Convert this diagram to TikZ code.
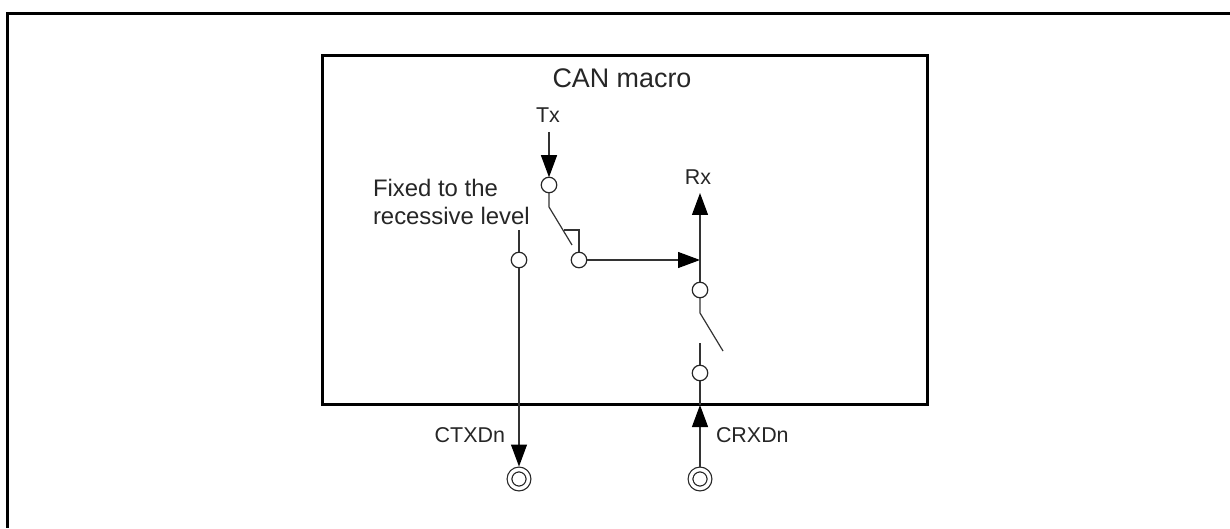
\documentclass[tikz,border=0pt]{standalone}
\usepackage{fontspec}
\setmainfont{Liberation Sans}
\usepackage{xcolor}
\usepackage{tikz}
\usetikzlibrary{arrows.meta}

\tikzset{
    wire/.style={line width=0.024cm, draw=black!80},
    sig/.style={wire, -{Stealth[length=0.44cm, width=0.32cm, inset=0pt, black]}},
    contact/.style={circle, draw=black!85, line width=0.024cm, minimum size=0.31cm, inner sep=0pt, outer sep=0pt},
    pin/.style={circle, draw=black!85, line width=0.024cm, double, double distance=0.07cm, minimum size=0.38cm, inner sep=0pt, outer sep=0.06cm},
    lbl/.style={inner sep=0pt, outer sep=0pt, text=black!85, font=\fontsize{12.2pt}{14pt}\selectfont},
}

\begin{document}
\begin{tikzpicture}
    \useasboundingbox (0,0) rectangle (24.6,10.56);

    % outer frame, open to the right and the bottom
    \draw[line width=0.06cm] (24.6,10.29) -- (0.15,10.29) -- (0.15,0);

    \node[draw, line width=0.06cm, minimum width=12.10cm, minimum height=6.96cm, inner sep=0pt, outer sep=0pt] (macro) at (12.49,5.96) {};
    \node[lbl, anchor=base, font=\fontsize{15.3pt}{18pt}\selectfont] (title) at (12.44,8.80) {CAN macro};

    % transmit side
    \node[lbl, anchor=base] (txlabel) at (10.96,8.10) {Tx};
    \coordinate (txtop) at (10.98,7.92);
    \node[contact] (txin) at (10.98,6.86) {};
    \coordinate (txbend) at (10.98,6.42);
    \coordinate (txarm) at (11.44,5.66);
    \node[contact] (txout) at (11.58,5.36) {};
    \coordinate (stopa) at (11.58,5.96);
    \coordinate (stopb) at (11.28,5.96);
    \draw[sig] (txtop) -- (txin);
    \draw[wire] (txin) -- (txbend) -- (txarm);
    \draw[wire] (txout) -- (stopa) -- (stopb);

    % fixed level path to the output pin
    \node[lbl, anchor=west, align=left, font=\fontsize{13.6pt}{16.4pt}\selectfont] (fixed) at (7.46,6.52) {Fixed to the\\recessive level};
    \coordinate (fixtop) at (10.38,5.96);
    \node[contact] (fixin) at (10.38,5.36) {};
    \node[pin] (ctxd) at (10.38,0.98) {};
    \draw[wire] (fixtop) -- (fixin);
    \draw[sig] (fixin) -- (ctxd);
    \node[lbl, anchor=base east] (ctxdlabel) at (10.10,1.72) {CTXDn};

    % receive side
    \node[lbl, anchor=base] (rxlabel) at (13.96,6.86) {Rx};
    \coordinate (rxtop) at (14.00,6.70);
    \coordinate (join) at (14.00,5.36);
    \node[contact] (rxout) at (14.00,4.76) {};
    \coordinate (rxbend) at (14.00,4.30);
    \coordinate (rxarm) at (14.46,3.54);
    \coordinate (rxstub) at (14.00,3.70);
    \node[contact] (rxin) at (14.00,3.10) {};
    \coordinate (rxedge) at (14.00,2.46);
    \node[pin] (crxd) at (14.00,0.98) {};
    \draw[sig] (txout) -- (join);
    \draw[sig] (rxout) -- (rxtop);
    \draw[wire] (rxout) -- (rxbend) -- (rxarm);
    \draw[wire] (rxstub) -- (rxin) -- (rxedge);
    \draw[sig] (crxd) -- (rxedge);
    \node[lbl, anchor=base west] (crxdlabel) at (14.32,1.72) {CRXDn};
\end{tikzpicture}
\end{document}
